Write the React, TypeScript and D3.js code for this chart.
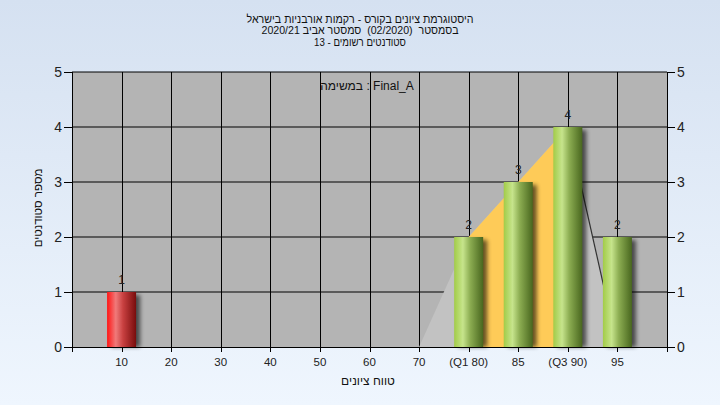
import React from "react";
import * as d3 from "d3";

const categories = ["10", "20", "30", "40", "50", "60", "70", "(Q1 80)", "85", "(Q3 90)", "95"];
const counts = [1, 0, 0, 0, 0, 0, 0, 2, 3, 4, 2];
const failing = [true, false, false, false, false, false, false, false, false, false, false];
// distribution area (category -> value), gray outside interquartile, orange inside
const areaCats = ["70", "(Q1 80)", "85", "(Q3 90)", "95"];
const areaValues = [0, 2, 3, 4, 0];
const iqrCats = ["(Q1 80)", "85", "(Q3 90)"];
const iqrValues = [2, 3, 4];
const tailCats = ["(Q3 90)", "95"];
const tailValues = [4, 0];
const yTicks = [0, 1, 2, 3, 4, 5];

const titleLines = [
  "היסטוגרמת ציונים בקורס - רקמות אורבניות בישראל",
  "בסמסטר  (02/2020)  סמסטר אביב 2020/21",
  "סטודנטים רשומים - 13",
];
const titleWidths = [227, 197, 92];
const subtitle = "במשימה : Final_A";
const xTitle = "טווח ציונים";
const yTitle = "מספר סטודנטים";

const W = 720;
const H = 405;
const L = 72;
const R = 667;
const T = 72;
const B = 347;
const FONT = "'Liberation Sans', Arial, 'DejaVu Sans', sans-serif";

export default function App() {
  const x = d3.scalePoint<string>().domain(categories).range([L, R]).padding(1);
  const y = d3.scaleLinear().domain([0, 5]).range([B, T]);
  const bw = 29;

  const area = d3
    .area<[string, number]>()
    .x((d) => x(d[0]) as number)
    .y0(y(0))
    .y1((d) => y(d[1]));
  const line = d3
    .line<[string, number]>()
    .x((d) => x(d[0]) as number)
    .y((d) => y(d[1]));

  const areaData = areaCats.map((c, i) => [c, areaValues[i]] as [string, number]);
  const iqrData = iqrCats.map((c, i) => [c, iqrValues[i]] as [string, number]);
  const tailData = tailCats.map((c, i) => [c, tailValues[i]] as [string, number]);

  return (
    <svg
      width={W}
      height={H}
      style={{ position: "absolute", left: 0, top: 0 }}
      fontFamily={FONT}
    >
      <defs>
        <linearGradient id="bg" x1="0" y1="0" x2="0" y2="1">
          <stop offset="0" stopColor="#d5e1f1" />
          <stop offset="1" stopColor="#eff6fe" />
        </linearGradient>
        <linearGradient id="green" x1="0" y1="0" x2="1" y2="0">
          <stop offset="0" stopColor="#a2cc48" />
          <stop offset="0.3" stopColor="#c6e48c" />
          <stop offset="0.55" stopColor="#8cad52" />
          <stop offset="1" stopColor="#48661e" />
        </linearGradient>
        <linearGradient id="red" x1="0" y1="0" x2="1" y2="0">
          <stop offset="0" stopColor="#ff1414" />
          <stop offset="0.3" stopColor="#f07a7a" />
          <stop offset="0.55" stopColor="#c84040" />
          <stop offset="1" stopColor="#780c0c" />
        </linearGradient>
        <filter id="shadow" x="-50%" y="-20%" width="200%" height="140%">
          <feGaussianBlur stdDeviation="2" />
        </filter>
      </defs>
      <rect x={0} y={0} width={W} height={H} fill="url(#bg)" />
      <rect x={L} y={T} width={R - L} height={B - T} fill="#b4b4b4" />

      {/* grid */}
      {yTicks.slice(1).map((t) => (
        <line key={"h" + t} x1={L} x2={R} y1={y(t)} y2={y(t)} stroke="#000" strokeWidth={1} />
      ))}
      {categories.map((c) => (
        <line
          key={"v" + c}
          x1={Math.round(x(c) as number) + 0.5}
          x2={Math.round(x(c) as number) + 0.5}
          y1={T}
          y2={B}
          stroke="#000"
          strokeWidth={1}
        />
      ))}

      {/* distribution area */}
      <path d={area(areaData) || ""} fill="#c2c2c2" />
      <path d={area(iqrData) || ""} fill="#fecb58" />
      <path d={line(tailData) || ""} fill="none" stroke="#333" strokeWidth={1.2} />

      {/* bars */}
      {categories.map((c, i) =>
        counts[i] > 0 ? (
          <g key={"b" + c}>
            <rect
              x={(x(c) as number) - bw / 2 + 4}
              y={y(counts[i]) + 3}
              width={bw}
              height={B - y(counts[i]) - 3}
              fill="#000"
              opacity={0.6}
              filter="url(#shadow)"
            />
            <rect
              x={(x(c) as number) - bw / 2}
              y={y(counts[i])}
              width={bw}
              height={B - y(counts[i])}
              fill={failing[i] ? "url(#red)" : "url(#green)"}
            />
            <text
              x={x(c) as number}
              y={y(counts[i]) - 8}
              textAnchor="middle"
              fontSize={12}
              fill="#222"
            >
              {counts[i]}
            </text>
          </g>
        ) : null
      )}

      {/* axes */}
      <line x1={L} x2={R} y1={B + 0.5} y2={B + 0.5} stroke="#000" />
      <line x1={L + 0.5} x2={L + 0.5} y1={T} y2={B + 5} stroke="#000" />
      <line x1={R + 0.5} x2={R + 0.5} y1={T} y2={B + 5} stroke="#000" />
      {yTicks.map((t) => (
        <g key={"yt" + t}>
          <line x1={L - 8} x2={L} y1={Math.round(y(t)) + 0.5} y2={Math.round(y(t)) + 0.5} stroke="#000" />
          <line x1={R} x2={R + 8} y1={Math.round(y(t)) + 0.5} y2={Math.round(y(t)) + 0.5} stroke="#000" />
          <text x={L - 10} y={y(t) + 5} textAnchor="end" fontSize={14} fill="#222">
            {t}
          </text>
          <text x={R + 10} y={y(t) + 5} textAnchor="start" fontSize={14} fill="#222">
            {t}
          </text>
        </g>
      ))}
      {categories.map((c) => (
        <g key={"xt" + c}>
          <line
            x1={Math.round(x(c) as number) + 0.5}
            x2={Math.round(x(c) as number) + 0.5}
            y1={B}
            y2={B + 5}
            stroke="#000"
          />
          <text x={x(c) as number} y={366} textAnchor="middle" fontSize={11.5} fill="#222">
            {c}
          </text>
        </g>
      ))}

      {/* titles */}
      {titleLines.map((t, i) => (
        <text
          key={"t" + i}
          x={360}
          y={23 + i * 11.4}
          textAnchor="middle"
          direction="rtl"
          fontSize={11}
          fill="#111"
          textLength={titleWidths[i]}
          lengthAdjust="spacingAndGlyphs"
          style={{ whiteSpace: "pre" }}
        >
          {t}
        </text>
      ))}
      <text x={367} y={90} textAnchor="middle" fontSize={12} fill="#111">
        {subtitle}
      </text>
      <text x={368} y={385} textAnchor="middle" fontSize={12} fill="#111" direction="rtl">
        {xTitle}
      </text>
      <text
        transform="translate(42,208) rotate(-90)"
        textAnchor="middle"
        fontSize={11.5}
        fill="#111"
        direction="rtl"
      >
        {yTitle}
      </text>
    </svg>
  );
}
